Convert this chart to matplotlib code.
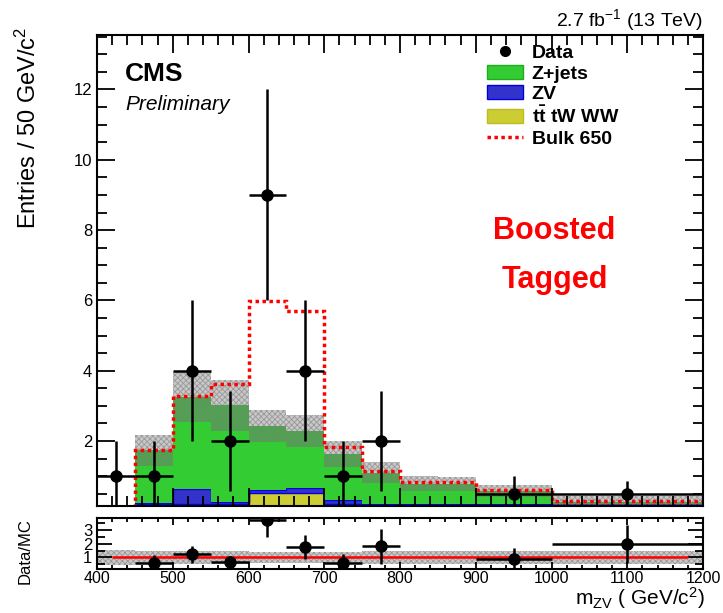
import matplotlib
matplotlib.use('Agg')
import matplotlib.pyplot as plt
import numpy as np
from matplotlib.patches import Patch
from matplotlib.lines import Line2D

plt.rcParams['font.family'] = ['Liberation Sans', 'DejaVu Sans']
plt.rcParams['mathtext.fontset'] = 'custom'
plt.rcParams['mathtext.rm'] = 'Liberation Sans'
plt.rcParams['mathtext.bf'] = 'Liberation Sans:bold'
plt.rcParams['mathtext.it'] = 'Liberation Sans:italic'
plt.rcParams['hatch.linewidth'] = 0.6

# bins (GeV), last two are wider, contents are per 50 GeV
edges = np.array([400, 450, 500, 550, 600, 650, 700, 750, 800, 850, 900, 1000, 1200])

# backgrounds (stacked)
tt_tw_ww = np.array([0, 0.20, 0.20, 0.20, 0.52, 0.52, 0.20, 0.20, 0.20, 0.20, 0.20, 0.20])
zv = np.array([0, 0.04, 0.42, 0.07, 0.08, 0.14, 0.13, 0.01, 0.01, 0.01, 0.01, 0.01])
zjets = np.array([0, 1.49, 2.63, 2.74, 1.82, 1.62, 1.31, 0.89, 0.58, 0.56, 0.37, 0.04])
mc_err = np.array([0, 0.43, 0.71, 0.72, 0.46, 0.45, 0.37, 0.30, 0.21, 0.20, 0.16, 0.18])

# signal on top of background
bulk650 = np.array([0, 0.0, 0.03, 0.62, 3.56, 3.41, 0.19, 0.05, 0.04, 0.06, 0.02, 0.05])

# data
data = np.array([1, 1, 4, 2, 9, 4, 1, 2, 0, 0, 0.5, 0.5])
data_err = np.array([1, 1, 2, 1.41, 3, 2, 1, 1.41, 0, 0, 0.5, 0.35])

# relative MC uncertainty shown in ratio panel
ratio_band = np.array([0.55, 0.45, 0.45, 0.45, 0.4, 0.4, 0.4, 0.45, 0.45, 0.45, 0.45, 0.45])

c_zj = '#33cc33'
c_zv = '#3333cc'
c_tt = '#cccc33'
band_fc = (0.42, 0.42, 0.42, 0.37)
band_ec = (0.5, 0.5, 0.5, 0.65)

W, H = 723, 613
fig = plt.figure(figsize=(W / 100, H / 100), dpi=100)
ax = fig.add_axes([97 / W, 1 - 506 / H, 606 / W, 471 / H])
rax = fig.add_axes([97 / W, 1 - 569 / H, 606 / W, 51 / H])

centers = 0.5 * (edges[1:] + edges[:-1])
halfw = 0.5 * (edges[1:] - edges[:-1])

s1 = tt_tw_ww
s2 = s1 + zv
total = s2 + zjets

ax.stairs(s1, edges, fill=True, color=c_tt)
ax.stairs(s2, edges, baseline=s1, fill=True, facecolor=c_zv, edgecolor='#0000dd', lw=1)
ax.stairs(total, edges, baseline=s2, fill=True, color=c_zj)
ax.stairs(total + mc_err, edges, baseline=total - mc_err, fill=True,
          facecolor=band_fc, edgecolor=band_ec, hatch='xxxxxx', lw=0)
ax.stairs(total + bulk650, edges, baseline=None, color='red', ls=(0, (1, 1)), lw=2.5)

m = data > 0
ax.errorbar(centers[m], data[m], xerr=halfw[m], yerr=data_err[m], fmt='o', color='k',
            ms=8, lw=1.8, capsize=0)

ax.set_xlim(400, 1200)
ax.set_ylim(0.15, 13.55)
ax.set_yticks([2, 4, 6, 8, 10, 12])
ax.set_yticks(np.arange(0.5, 13.6, 0.5), minor=True)
ax.set_xticks(np.arange(400, 1201, 100))
ax.set_xticks(np.arange(400, 1201, 20), minor=True)
ax.tick_params(which='both', direction='in', top=True, right=True, labelbottom=False,
               labelsize=12, width=1.3)
ax.tick_params(which='major', length=13)
ax.tick_params(which='minor', length=7)
for sp in ax.spines.values():
    sp.set_linewidth(1.5)

# ratio panel
mr = (data > 0) & (total > 0)
ratio = data[mr] / total[mr]
ratio_err = data_err[mr] / total[mr]
rax.stairs(1 + ratio_band, edges, baseline=1 - ratio_band, fill=True,
           facecolor=band_fc, edgecolor=band_ec, hatch='xxxxxx', lw=0)
rax.hlines(1, 420, 1180, color='red', lw=1.8)
rax.errorbar(centers[mr], ratio, xerr=halfw[mr], yerr=ratio_err, fmt='o', color='k',
             ms=8, lw=1.8, capsize=0)
rax.set_xlim(400, 1200)
rax.set_ylim(0.15, 3.9)
rax.set_yticks([1, 2, 3])
rax.set_yticks([0.5, 1.5, 2.5, 3.5], minor=True)
rax.set_xticks(np.arange(400, 1201, 100))
rax.set_xticks(np.arange(400, 1201, 20), minor=True)
rax.tick_params(which='both', direction='in', top=True, right=True, labelsize=12, width=1.3)
rax.tick_params(axis='x', pad=1.5, labelsize=11.5)
rax.tick_params(axis='y', which='major', length=11)
rax.tick_params(axis='y', which='minor', length=6)
rax.tick_params(axis='x', which='major', length=5)
rax.tick_params(axis='x', which='minor', length=3)
for sp in rax.spines.values():
    sp.set_linewidth(1.5)

# labels
fig.text(28 / W, 1 - 27 / H, 'Entries / 50 GeV/c$^{2}$', rotation=90, ha='center', va='top',
         fontsize=17)
fig.text(25 / W, 1 - 551 / H, 'Data/MC', rotation=90, ha='center', va='center', fontsize=12)
fig.text(705 / W, 1 - 605 / H, 'm$_{\\mathrm{ZV}}$ ( GeV/c$^{2}$)', ha='right', va='baseline',
         fontsize=15)
fig.text(703 / W, 1 - 26 / H, '2.7 fb$^{-1}$ (13 TeV)', ha='right', va='baseline', fontsize=14)

ax.text(0.046, 0.918, 'CMS', transform=ax.transAxes, fontsize=19,
        fontweight='bold', va='center', ha='left')
ax.text(0.046, 0.853, 'Preliminary', transform=ax.transAxes, fontsize=15, style='italic',
        va='center', ha='left')
ax.text(0.755, 0.584, 'Boosted', transform=ax.transAxes, fontsize=22, fontweight='bold',
        color='red', ha='center', va='center')
ax.text(0.755, 0.48, 'Tagged', transform=ax.transAxes, fontsize=22, fontweight='bold',
        color='red', ha='center', va='center')

handles = [
    Line2D([], [], marker='o', color='k', ls='none', ms=7),
    Patch(facecolor=c_zj, edgecolor='#22aa22'),
    Patch(facecolor=c_zv, edgecolor='#0000dd'),
    Patch(facecolor=c_tt, edgecolor='#bbbb22'),
    Line2D([], [], color='red', ls=(0, (1, 1)), lw=2.5),
]
labels = ['Data', 'Z+jets', 'ZV', r'$\mathbf{t\bar{t}}$ tW WW', 'Bulk 650']
fig.legend(handles, labels, loc='upper left', bbox_to_anchor=(487 / W, 1 - 44 / H),
           frameon=False, prop={'weight': 'bold', 'size': 14}, handlelength=1.85,
           handleheight=0.75, handletextpad=0.45, labelspacing=0.14, borderpad=0,
           borderaxespad=0)

fig.savefig('out.png', dpi=100)
